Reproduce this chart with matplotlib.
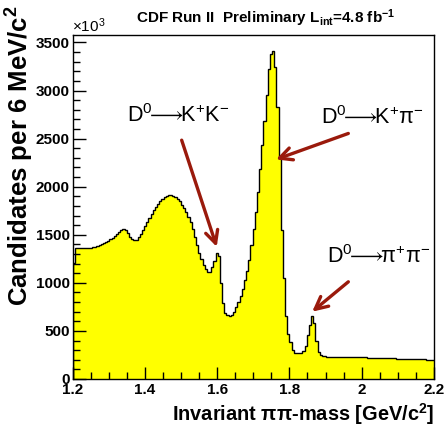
import numpy as np
import matplotlib
matplotlib.use("Agg")
import matplotlib.pyplot as plt
from matplotlib.ticker import MultipleLocator

plt.rcParams['font.family'] = ['Liberation Sans', 'DejaVu Sans']
plt.rcParams['mathtext.fontset'] = 'custom'
plt.rcParams['mathtext.rm'] = 'Liberation Sans'
plt.rcParams['mathtext.it'] = 'Liberation Sans:italic'
plt.rcParams['mathtext.bf'] = 'Liberation Sans:bold'
plt.rcParams['mathtext.sf'] = 'Liberation Sans'
plt.rcParams['mathtext.fallback'] = 'stixsans'

# ---- data: candidates per 6 MeV/c^2 (in units of 10^3), bins starting at 1.2 GeV/c^2
bin_start = 1.2
bin_width = 0.006
counts = [
    1205, 1358, 1359, 1360, 1361, 1362, 1363, 1364, 1366, 1372,
    1378, 1386, 1395, 1405, 1416, 1428, 1440, 1452, 1468, 1486,
    1505, 1525, 1545, 1557, 1552, 1520, 1480, 1455, 1445, 1450,
    1475, 1510, 1548, 1590, 1630, 1675, 1715, 1755, 1790, 1820,
    1848, 1870, 1888, 1902, 1910, 1913, 1906, 1893, 1875, 1850,
    1815, 1775, 1735, 1685, 1630, 1560, 1480, 1395, 1310, 1245,
    1190, 1145, 1115, 1112, 1160, 1225, 1310, 1280, 1000, 790,
    685, 665, 660, 668, 700, 745, 800, 865, 940, 1025,
    1120, 1240, 1390, 1560, 1740, 1950, 2180, 2430, 2680, 2950,
    3220, 3380, 3410, 3240, 2830, 2310, 1550, 1050, 660, 470,
    380, 300, 275, 268, 266, 272, 290, 340, 460, 565,
    655, 580, 400, 285, 250, 240, 236, 234, 233, 233,
    232, 232, 231, 231, 230, 230, 229, 229, 228, 228,
    227, 227, 226, 225, 225, 224, 223, 223, 222, 221,
    220, 220, 219, 218, 217, 217, 216, 215, 214, 213,
    213, 212, 211, 210, 209, 208, 208, 207, 206, 205,
    204, 203, 203, 202, 201, 200, 200,
]
x_ticks = [1.2, 1.4, 1.6, 1.8, 2.0, 2.2]
x_tick_labels = ['1.2', '1.4', '1.6', '1.8', '2', '2.2']
y_ticks = [0, 500, 1000, 1500, 2000, 2500, 3000, 3500]
y_tick_labels = ['0', '500', '1000', '1500', '2000', '2500', '3000', '3500']

counts = np.array(counts, dtype=float)
edges = bin_start + bin_width * np.arange(len(counts) + 1)

W, H = 444, 430
fig = plt.figure(figsize=(W / 100, H / 100), dpi=100)
ax = fig.add_axes([72.5 / W, 1 - 379 / H, (434 - 72.5) / W, (379 - 35) / H])

ax.stairs(counts, edges, fill=True, color='#ffff00', baseline=0, zorder=1)
ax.stairs(counts, edges, fill=False, color='black', linewidth=1.0, baseline=0, zorder=2)

ax.set_xlim(1.2, 2.2)
ax.set_ylim(0, 3578)

ax.set_xticks(x_ticks)
ax.set_xticklabels(x_tick_labels)
ax.set_yticks(y_ticks)
ax.set_yticklabels(y_tick_labels)
ax.xaxis.set_minor_locator(MultipleLocator(0.05))
ax.yaxis.set_minor_locator(MultipleLocator(100))
ax.tick_params(which='both', direction='in', top=False, right=False, width=1.0, color='black')
ax.tick_params(which='major', length=9)
ax.tick_params(which='minor', length=5)
ax.tick_params(axis='x', which='major', pad=3)
ax.tick_params(axis='y', which='major', pad=2)
for lab in ax.get_xticklabels() + ax.get_yticklabels():
    lab.set_fontweight('bold')
    lab.set_fontsize(11)
for s in ax.spines.values():
    s.set_linewidth(1.0)
    s.set_color('black')

# axis titles
fig.text(434 / W, 1 - 421 / H, r'Invariant ππ-mass [GeV/c$^{\mathbf{2}}$]',
         ha='right', va='baseline', fontsize=14.4, fontweight='bold')
fig.text(20 / W, 1 - 5 / H, r'Candidates per 6 MeV/c$^{\mathbf{2}}$',
         ha='center', va='top', rotation=90, fontsize=18.5, fontweight='bold')
fig.text(72 / W, 1 - 32 / H, r'$\times$10$^{3}$', ha='left', va='baseline', fontsize=11)
fig.text(136 / W, 1 - 23 / H, r'CDF Run II  Preliminary L$_{\mathbf{int}}$=4.8 fb$^{\mathbf{-1}}$',
         ha='left', va='baseline', fontsize=11, fontweight='bold')

# annotations
arrow_color = '#9a1a0c'
aprops = dict(arrowstyle='->,head_length=0.9,head_width=0.45', color=arrow_color, lw=2.4,
              shrinkA=0, shrinkB=0)
ax.annotate('', xy=(1.599, 1375), xytext=(1.502, 2484), arrowprops=aprops)
ax.annotate('', xy=(1.763, 2284), xytext=(1.963, 2554), arrowprops=aprops)
ax.annotate('', xy=(1.863, 700), xytext=(1.963, 1011), arrowprops=aprops)

ax.text(1.351, 2675, r'D$^{0}\!\!\longrightarrow\!\!$K$^{+}$K$^{-}$', fontsize=15.5, ha='left', va='baseline')
ax.text(1.887, 2651, r'D$^{0}\!\!\longrightarrow\!\!$K$^{+}$π$^{-}$', fontsize=15.5, ha='left', va='baseline')
ax.text(1.904, 1206, r'D$^{0}\!\!\longrightarrow\!\!$π$^{+}$π$^{-}$', fontsize=15.5, ha='left', va='baseline')

fig.savefig('out.png', dpi=100)
